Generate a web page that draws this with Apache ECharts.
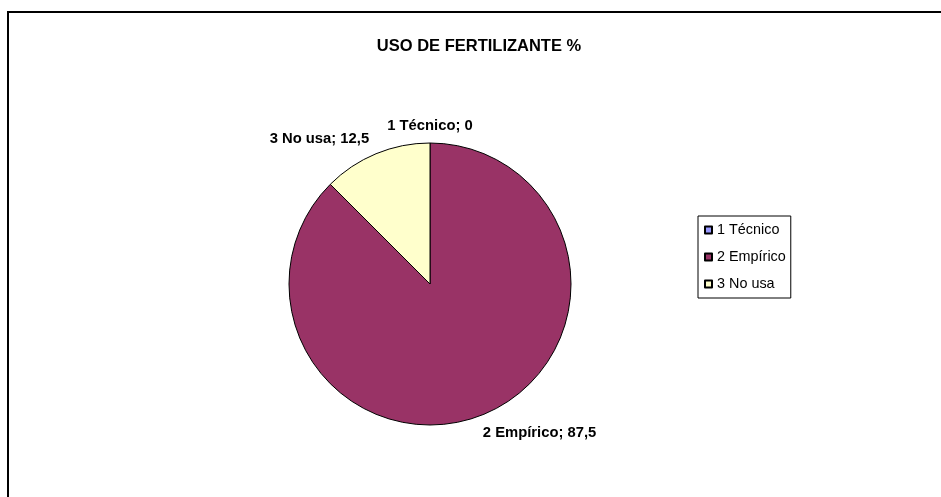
<!DOCTYPE html>
<html>
<head>
<meta charset="utf-8">
<script src="https://cdn.jsdelivr.net/npm/echarts@6/dist/echarts.min.js"></script>
<style>
  html, body { margin: 0; padding: 0; background: #fff; }
  #chart { width: 941px; height: 497px; }
</style>
</head>
<body>
<div id="chart"></div>
<script>
const categories = ['1 Técnico', '2 Empírico', '3 No usa'];
const values = [0, 87.5, 12.5];
const valueLabels = ['0', '87,5', '12,5'];
const colors = ['#9999ff', '#993366', '#ffffcc'];

const chart = echarts.init(document.getElementById('chart'));

chart.setOption({
  animation: false,
  textStyle: { fontFamily: 'Liberation Sans, Arial, sans-serif' },
  title: {
    text: 'USO DE FERTILIZANTE %',
    left: 474,
    textAlign: 'center',
    top: 33,
    textStyle: { fontSize: 16.5, fontWeight: 'bold', color: '#000' }
  },
  graphic: [{
    type: 'rect',
    shape: { x: 8, y: 12, width: 1000, height: 600 },
    style: { fill: 'none', stroke: '#000', lineWidth: 2 },
    silent: true
  }],
  legend: {
    orient: 'vertical',
    left: 698,
    top: 216,
    padding: [7, 5, 7, 6],
    itemGap: 13,
    itemWidth: 7,
    itemHeight: 7,
    icon: 'rect',
    borderColor: '#000',
    borderWidth: 1,
    textStyle: { fontSize: 14.4, color: '#000' },
    data: categories
  },
  series: [{
    type: 'pie',
    center: [430, 284],
    radius: 141,
    startAngle: 90,
    clockwise: true,
    avoidLabelOverlap: false,
    itemStyle: { borderColor: '#000', borderWidth: 1 },
    label: {
      show: true,
      position: 'outside',
      distanceToLabelLine: 0,
      fontSize: 14.8,
      fontWeight: 'bold',
      color: '#000',
      formatter: p => `${p.name}; ${valueLabels[p.dataIndex]}`
    },
    labelLine: { show: false, length: 18, length2: 0 },
    labelLayout: p => {
      if (p.dataIndex === 0) return { align: 'center', dy: 1 };
      if (p.dataIndex === 1) return { dx: -8, dy: 2 };
      return { dy: 2 };
    },
    emphasis: { disabled: true },
    data: categories.map((c, i) => ({
      name: c,
      value: values[i],
      itemStyle: { color: colors[i] }
    }))
  }]
});
</script>
</body>
</html>
